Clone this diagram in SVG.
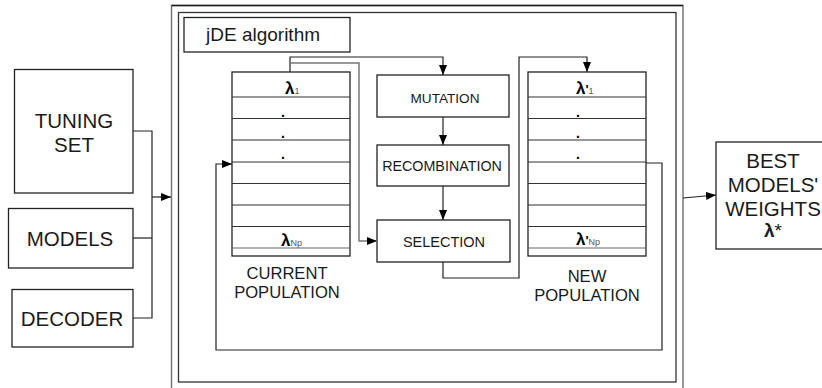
<svg xmlns="http://www.w3.org/2000/svg" width="822" height="388" viewBox="0 0 822 388">
<style>
.box{fill:#fff;stroke:#222;stroke-width:1.3}
.frame{fill:none;stroke:#333;stroke-width:1.3}
.gframe{fill:none;stroke:#777;stroke-width:1.5}
.row{stroke:#333;stroke-width:1.2}
.con{fill:none;stroke:#222;stroke-width:1.2}
.gcon{fill:none;stroke:#777;stroke-width:1.5}
text{font-family:"Liberation Sans",Arial,sans-serif;fill:#1a1a1a}
.big{font-size:20.5px}
.mid{font-size:16.6px}
.sm{font-size:14.3px}
.lam{font-size:17px;font-weight:bold;fill:#000}
.sub{font-size:9px;font-weight:normal;fill:#555}
.dot{font-size:14px;font-weight:bold;fill:#000}
</style>
<defs>
<marker id="ah" viewBox="0 0 10 10" refX="10" refY="5" markerWidth="10" markerHeight="10" markerUnits="userSpaceOnUse" orient="auto">
<path d="M0,1 L10,5 L0,9 z" fill="#000"/>
</marker>
</defs>

<g id="outer-frame">
<rect x="171.5" y="5.5" width="511.5" height="400" class="gframe"/>
<line x1="171.5" y1="5.5" x2="683" y2="5.5" stroke="#222" stroke-width="1.3"/>
</g>
<g id="jde-frame">
<rect x="178.5" y="12.5" width="497.5" height="369.5" class="frame"/>
</g>
<g id="jde-label">
<rect x="184" y="17.5" width="166" height="34.5" class="box"/>
<text x="206" y="41" style="font-size:19px">jDE algorithm</text>
</g>

<g id="tuning-set">
<rect x="14.5" y="69.5" width="118.5" height="123.5" class="box"/>
<text x="74" y="128" class="big" text-anchor="middle">TUNING</text>
<text x="74" y="152" class="big" text-anchor="middle">SET</text>
</g>
<g id="models">
<rect x="8.5" y="208.5" width="124.5" height="59.5" class="box"/>
<text x="70" y="246" class="big" text-anchor="middle">MODELS</text>
</g>
<g id="decoder">
<rect x="12" y="289.5" width="121" height="57.5" class="box"/>
<text x="72" y="326" class="big" text-anchor="middle">DECODER</text>
</g>

<g id="current-population">
<rect x="232" y="72" width="118" height="184" class="box"/>
<line x1="232" y1="97" x2="350" y2="97" class="row"/>
<line x1="232" y1="118.5" x2="350" y2="118.5" class="row"/>
<line x1="232" y1="140" x2="350" y2="140" class="row"/>
<line x1="232" y1="162" x2="350" y2="162" class="row"/>
<line x1="232" y1="183.5" x2="350" y2="183.5" class="row"/>
<line x1="232" y1="205" x2="350" y2="205" class="row"/>
<line x1="232" y1="226.5" x2="350" y2="226.5" class="row"/>
<line x1="232" y1="248" x2="350" y2="248" stroke="#666" stroke-width="1.2"/>
<text x="285" y="94" class="lam">λ<tspan class="sub">1</tspan></text>
<text x="281" y="117" class="dot">.</text>
<text x="281" y="138" class="dot">.</text>
<text x="281" y="159" class="dot">.</text>
<text x="281" y="246" class="lam">λ<tspan class="sub">Np</tspan></text>
<text x="287" y="279" class="mid" text-anchor="middle">CURRENT</text>
<text x="287" y="298" class="mid" text-anchor="middle">POPULATION</text>
</g>

<g id="mutation">
<rect x="377" y="75" width="132" height="42" class="box"/>
<text x="445" y="103" style="font-size:13.6px" text-anchor="middle">MUTATION</text>
</g>
<g id="recombination">
<rect x="377" y="145" width="132" height="41" class="box"/>
<text x="442" y="171" class="sm" text-anchor="middle">RECOMBINATION</text>
</g>
<g id="selection">
<rect x="377" y="220" width="133" height="42" class="box"/>
<text x="444" y="247" style="font-size:14.5px" text-anchor="middle">SELECTION</text>
</g>

<g id="new-population">
<rect x="528" y="72" width="118" height="184" class="box"/>
<line x1="528" y1="97" x2="646" y2="97" class="row"/>
<line x1="528" y1="118.5" x2="646" y2="118.5" class="row"/>
<line x1="528" y1="140" x2="646" y2="140" class="row"/>
<line x1="528" y1="162" x2="646" y2="162" class="row"/>
<line x1="528" y1="183.5" x2="646" y2="183.5" class="row"/>
<line x1="528" y1="205" x2="646" y2="205" class="row"/>
<line x1="528" y1="226.5" x2="646" y2="226.5" class="row"/>
<line x1="528" y1="248" x2="646" y2="248" stroke="#666" stroke-width="1.2"/>
<text x="576" y="94" class="lam">λ<tspan style="font-size:13px">'</tspan><tspan class="sub">1</tspan></text>
<text x="576" y="117" class="dot">.</text>
<text x="576" y="138" class="dot">.</text>
<text x="576" y="159" class="dot">.</text>
<text x="576" y="245" class="lam">λ<tspan style="font-size:13px">'</tspan><tspan class="sub">Np</tspan></text>
<text x="587" y="282" class="mid" text-anchor="middle">NEW</text>
<text x="587" y="301" class="mid" text-anchor="middle">POPULATION</text>
</g>

<g id="best-weights">
<rect x="716" y="142" width="114" height="107" class="box"/>
<text x="773" y="168" class="big" text-anchor="middle">BEST</text>
<text x="773" y="192" class="big" text-anchor="middle">MODELS'</text>
<text x="773" y="216" class="big" text-anchor="middle">WEIGHTS</text>
<text x="773" y="237" style="font-size:19px" text-anchor="middle"><tspan font-weight="bold">λ</tspan>*</text>
</g>

<g id="connectors">
<path d="M133,131 H152 V318 H133" class="con"/>
<path d="M133,238 H152" class="con"/>
<path d="M152,197 H171" class="con" marker-end="url(#ah)"/>
<path d="M290,72 V57 H443 V75" class="con" marker-end="url(#ah)"/>
<path d="M290,63 H359 V241 H377" class="gcon" marker-end="url(#ah)"/>
<path d="M443,117 V145" class="con" marker-end="url(#ah)"/>
<path d="M443,186 V220" class="con" marker-end="url(#ah)"/>
<path d="M443,262 V278 H519 V57 H587 V72" class="con" marker-end="url(#ah)"/>
<path d="M646,163 H662 V350 H216 V164 H232" class="con" marker-end="url(#ah)"/>
<path d="M683,198 L716,195" class="con" marker-end="url(#ah)"/>
</g>
</svg>
